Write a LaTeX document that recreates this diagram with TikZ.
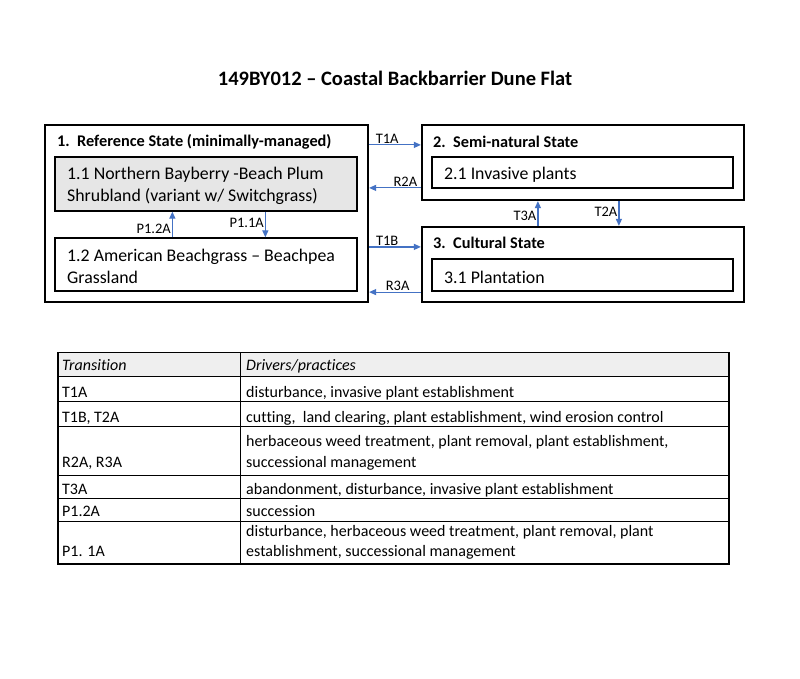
\documentclass[tikz,border=0pt]{standalone}
\usepackage{fontspec}
\setmainfont{Carlito}[Ligatures={NoCommon}]
\usetikzlibrary{arrows.meta}
\definecolor{arrblue}{HTML}{4472C4}
\definecolor{boxgray}{HTML}{E6E6E6}
\definecolor{headgray}{HTML}{EFEFEF}
\tikzset{
  outerbox/.style={draw=black, line width=2.2pt, minimum width=#1, inner sep=0pt},
  innerbox/.style={draw=black, line width=1.3pt, inner sep=0pt, anchor=center},
  boxtext/.style={font=\fontsize{17.8}{22}\selectfont, align=left, inner sep=0pt, anchor=west},
  statetitle/.style={font=\fontsize{16.3}{20}\selectfont\bfseries, inner sep=0pt, anchor=west},
  arr/.style={draw=arrblue, line width=1.2pt, -{Triangle[length=7pt,width=6pt]}},
  arrlab/.style={font=\fontsize{14.5}{16}\selectfont, inner sep=1pt},
  celltext/.style={font=\fontsize{16}{20}\selectfont, inner sep=0pt, anchor=base west},
  headtext/.style={font=\fontsize{16}{20}\selectfont\itshape, inner sep=0pt, anchor=base west},
}
\begin{document}
\begin{tikzpicture}[x=1pt,y=-1pt]
\useasboundingbox (0,0) rectangle (800,679);
\fill[white] (0,0) rectangle (800,679);

% title
\node[font=\fontsize{20.5}{24}\selectfont\bfseries, inner sep=0pt] (title) at (395,78) {149BY012 – Coastal Backbarrier Dune Flat};

% state 1
\node[outerbox=323pt, minimum height=177pt] (s1) at (206.5,213.5) {};
\node[statetitle] (s1t) at (57,142) {1.\ \ Reference State (minimally-managed)};
\node[innerbox, fill=boxgray, minimum width=302pt, minimum height=54pt] (s11) at (206,184) {};
\node[boxtext] (s11t) at (67,186) {1.1 Northern Bayberry -Beach Plum\\Shrubland (variant w/ Switchgrass)};
\node[innerbox, minimum width=302pt, minimum height=53pt] (s12) at (206,264.5) {};
\node[boxtext] (s12t) at (67,266) {1.2 American Beachgrass – Beachpea\\Grassland};

% state 2
\node[outerbox=322pt, minimum height=75pt] (s2) at (583,162.5) {};
\node[statetitle] (s2t) at (433,142) {2.\ \ Semi-natural State};
\node[innerbox, minimum width=301pt, minimum height=31pt] (s21) at (582.5,172.5) {};
\node[boxtext] (s21t) at (444,175) {2.1 Invasive plants};

% state 3
\node[outerbox=322pt, minimum height=75pt] (s3) at (583,264.5) {};
\node[statetitle] (s3t) at (433,243) {3.\ \ Cultural State};
\node[innerbox, minimum width=301pt, minimum height=32pt] (s31) at (582.5,275) {};
\node[boxtext] (s31t) at (444,277) {3.1 Plantation};

% horizontal transitions
\draw[arr] ([yshift=-21pt]s1.north east) -- node[arrlab, above, pos=0.35] (lT1A) {T1A} ([yshift=-21pt]s2.north west);
\draw[arr] ([yshift=-64pt]s2.north west) -- node[arrlab, above, pos=0.3] (lR2A) {R2A} ([yshift=-64pt]s1.north east);
\draw[arr] ([yshift=-21pt]s3.north west -| s1.east) -- node[arrlab, above, pos=0.35] (lT1B) {T1B} ([yshift=-21pt]s3.north west);
\draw[arr] ([yshift=11pt]s3.south west) -- node[arrlab, above, pos=0.45] (lR3A) {R3A} ([yshift=11pt]s3.south west -| s1.east);

% vertical transitions
\draw[arr] ([xshift=117pt]s3.north west) -- node[arrlab, left, pos=0.4] (lT3A) {T3A} ([xshift=117pt]s2.south west);
\draw[arr] ([xshift=198pt]s2.south west) -- node[arrlab, left, pos=0.45] (lT2A) {T2A} ([xshift=198pt]s3.north west);
\draw[arr] ([xshift=118pt]s12.north west) -- node[arrlab, left, pos=0.35] (lP12) {P1.2A} ([xshift=118pt]s11.south west);
\draw[arr] ([xshift=211pt]s11.south west) -- node[arrlab, left, pos=0.45] (lP11) {P1.1A} ([xshift=211pt]s12.north west);

% table
\fill[headgray] (58,352.5) rectangle (729,376.5);
\foreach \yy in {376.5,401.5,426.5,475.5,498.5,521} \draw[line width=0.8pt] (58,\yy) -- (729,\yy);
\draw[line width=0.8pt] (240,352.5) -- (240,564);
\draw[line width=1.8pt] (58,352.5) rectangle (729,564);

\node[headtext] (h1) at (62,370.7) {Transition};
\node[headtext] (h2) at (246,370.7) {Drivers/practices};

\node[celltext] (a1) at (62,397.5) {T1A};
\node[celltext] (b1) at (246,397.5) {disturbance, invasive plant establishment};
\node[celltext] (a2) at (62,422.5) {T1B, T2A};
\node[celltext] (b2) at (246,422.5) {cutting,\ \ land clearing, plant establishment, wind erosion control};
\node[celltext] (b3a) at (246,446.5) {herbaceous weed treatment, plant removal, plant establishment,};
\node[celltext] (a3) at (62,467) {R2A, R3A};
\node[celltext] (b3b) at (246,467) {successional management};
\node[celltext] (a4) at (62,494) {T3A};
\node[celltext] (b4) at (246,494) {abandonment, disturbance, invasive plant establishment};
\node[celltext] (a5) at (62,516.5) {P1.2A};
\node[celltext] (b5) at (246,516.5) {succession};
\node[celltext] (b6a) at (246,536.5) {disturbance, herbaceous weed treatment, plant removal, plant};
\node[celltext] (a6) at (62,556.5) {P1. 1A};
\node[celltext] (b6b) at (246,556.5) {establishment, successional management};
\end{tikzpicture}
\end{document}
